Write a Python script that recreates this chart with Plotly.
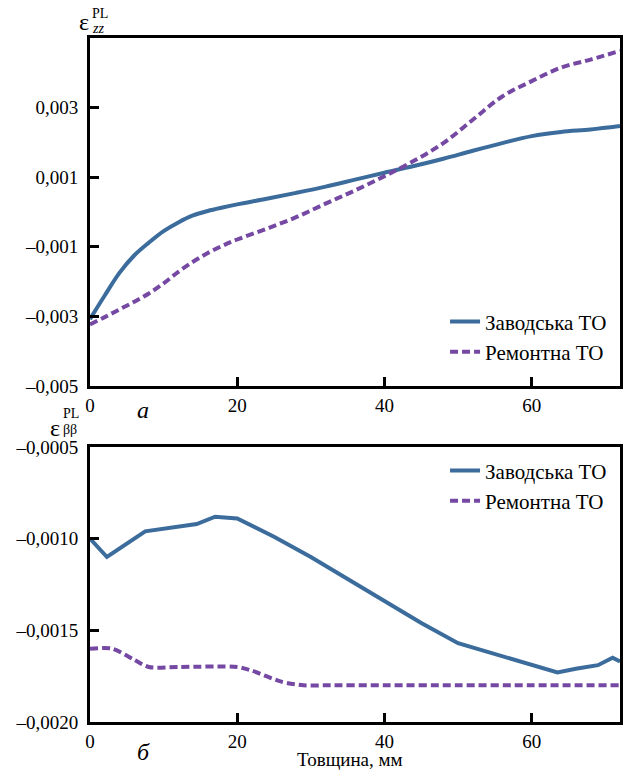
import plotly.graph_objects as go

# ---- data -------------------------------------------------------------
# panel a: axial plastic strain through the thickness
thk_zz_factory = [0, 2, 4, 6, 8, 10, 12, 14, 16, 18, 20, 24, 28, 32, 36, 40,
                  44, 48, 52, 56, 60, 64, 68, 72]
eps_zz_factory = [-0.00308, -0.00240, -0.00175, -0.00125, -0.00088, -0.00055,
                  -0.00030, -0.00010, 0.00003, 0.00013, 0.00022, 0.00038,
                  0.00055, 0.00073, 0.00093, 0.00113, 0.00132, 0.00153,
                  0.00176, 0.00198, 0.00218, 0.00230, 0.00237, 0.00247]

thk_zz_repair = [0, 2, 4, 6, 8, 10, 12, 14, 16, 18, 20, 24, 28, 32, 36, 40,
                 44, 48, 52, 56, 60, 64, 68, 72]
eps_zz_repair = [-0.00323, -0.00302, -0.00280, -0.00258, -0.00234, -0.00205,
                 -0.00172, -0.00143, -0.00118, -0.00097, -0.00079, -0.00048,
                 -0.00015, 0.00024, 0.00062, 0.00103, 0.00147, 0.00198,
                 0.00265, 0.00332, 0.00376, 0.00415, 0.00438, 0.00463]

# panel b: hoop plastic strain through the thickness
thk_bb_factory = [0, 2.3, 7.5, 11, 14.5, 17, 20, 25, 30, 35, 40, 45, 50, 55,
                  57, 63.5, 66, 69, 71, 72]
eps_bb_factory = [-0.00100, -0.00110, -0.00096, -0.00094, -0.00092, -0.00088,
                  -0.00089, -0.00099, -0.00110, -0.00122, -0.00134, -0.00146,
                  -0.00157, -0.00163, -0.00165, -0.00173, -0.00171, -0.00169,
                  -0.00165, -0.00167]

thk_bb_repair = [0, 3, 6, 8, 12, 20, 22, 26, 29, 32, 40, 50, 60, 72]
eps_bb_repair = [-0.00160, -0.00160, -0.00166, -0.00170, -0.00170, -0.00170,
                 -0.00172, -0.00178, -0.00180, -0.00180, -0.00180, -0.00180,
                 -0.00180, -0.00180]

series_names = ["Заводська ТО", "Ремонтна ТО"]

x_ticks = [0, 20, 40, 60]
zz_ticks = [-0.005, -0.003, -0.001, 0.001, 0.003]
zz_ticktext = ["\u20130,005", "\u20130,003", "\u20130,001", "0,001", "0,003"]
bb_ticks = [-0.0020, -0.0015, -0.0010, -0.0005]
bb_ticktext = ["\u20130,0020", "\u20130,0015", "\u20130,0010", "\u20130,0005"]

# ---- styling ----------------------------------------------------------
W, H = 627, 772
ML, MR, MT, MB = 90, 7, 38, 50
FONT = "Liberation Serif"
BLUE = "#3b6c9c"
PURPLE = "#7549a3"


def px(x):
    return (x - ML) / (W - ML - MR)


def py(y):
    return (H - MB - y) / (H - MT - MB)


def serif(size):
    return dict(family=FONT, size=size, color="black")


fig = go.Figure()

common = dict(mode="lines", line_shape="spline")
fig.add_trace(go.Scatter(x=thk_zz_factory, y=eps_zz_factory, name=series_names[0],
                         line=dict(color=BLUE, width=4, smoothing=1.0),
                         xaxis="x", yaxis="y", legend="legend", **common))
fig.add_trace(go.Scatter(x=thk_zz_repair, y=eps_zz_repair, name=series_names[1],
                         line=dict(color=PURPLE, width=4, dash="8px,4px", smoothing=1.0),
                         xaxis="x", yaxis="y", legend="legend", **common))
fig.add_trace(go.Scatter(x=thk_bb_factory, y=eps_bb_factory, name=series_names[0],
                         mode="lines", line=dict(color=BLUE, width=4),
                         xaxis="x2", yaxis="y2", legend="legend2"))
fig.add_trace(go.Scatter(x=thk_bb_repair, y=eps_bb_repair, name=series_names[1],
                         line=dict(color=PURPLE, width=4, dash="8px,4px", smoothing=0.8),
                         xaxis="x2", yaxis="y2", legend="legend2", **common))

axis_common = dict(showline=True, linecolor="black", linewidth=3, mirror=True,
                   ticks="inside", ticklen=9, tickwidth=3, tickcolor="black",
                   showgrid=False, zeroline=False, tickfont=serif(19))

top_dom = [py(386), 1.0]
bot_dom = [0.0, py(447)]

fig.update_layout(
    template="none",
    width=W, height=H,
    margin=dict(l=ML, r=MR, t=MT, b=MB),
    paper_bgcolor="white", plot_bgcolor="white",
    font=serif(19),
    xaxis=dict(domain=[0, 1], range=[0, 72], tickvals=x_ticks, anchor="y",
               ticklabelstandoff=0, **axis_common),
    yaxis=dict(domain=top_dom, range=[-0.005, 0.005], tickvals=zz_ticks,
               ticktext=zz_ticktext, anchor="x", ticklabelstandoff=5, **axis_common),
    xaxis2=dict(domain=[0, 1], range=[0, 72], tickvals=x_ticks, anchor="y2",
                ticklabelstandoff=0, **axis_common),
    yaxis2=dict(domain=bot_dom, range=[-0.002, -0.0005], tickvals=bb_ticks,
                ticktext=bb_ticktext, anchor="x2", ticklabelstandoff=5, **axis_common),
    legend=dict(x=0.985, xanchor="right", y=top_dom[0] + 0.02, yanchor="bottom",
                bgcolor="rgba(0,0,0,0)", font=serif(21), tracegroupgap=0),
    legend2=dict(x=0.985, xanchor="right", y=bot_dom[1] - 0.005, yanchor="top",
                 bgcolor="rgba(0,0,0,0)", font=serif(21), tracegroupgap=0),
)

ann = []


def label(text, x, y, size, italic=False, xanchor="center", yanchor="middle"):
    if italic:
        text = "<i>" + text + "</i>"
    ann.append(dict(text=text, x=px(x), y=py(y), xref="paper", yref="paper",
                    xanchor=xanchor, yanchor=yanchor, showarrow=False,
                    font=serif(size)))


# axis symbols: epsilon with stacked superscript and subscript
label("ε", 84, 22, 24)
label("PL", 90, 14, 14, xanchor="left")
label("zz", 90, 28, 14, italic=True, xanchor="left")
label("ε", 55, 428, 24)
label("PL", 61, 413, 14, xanchor="left")
label("ββ", 61, 429, 14, xanchor="left")

# panel letters and x title
label("а", 143, 410, 24, italic=True)
label("б", 143, 752, 24, italic=True)
label("Товщина, мм", 350, 772, 19, yanchor="bottom")

fig.update_layout(annotations=ann)

fig.write_html("out.html")
